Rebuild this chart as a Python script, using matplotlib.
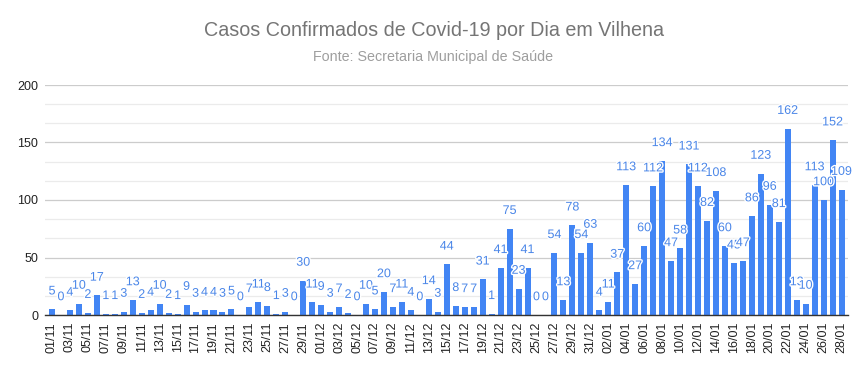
import datetime as dt

import matplotlib
matplotlib.use("Agg")
import matplotlib.pyplot as plt
import matplotlib.patheffects as pe
from matplotlib.ticker import MultipleLocator

# daily confirmed cases, 01/11 .. 28/01
NOV = [5, 0, 4, 10, 2, 17, 1, 1, 3, 13, 2, 4, 10, 2, 1, 9, 3, 4, 4, 3,
       5, 0, 7, 11, 8, 1, 3, 0, 30, 11]
DEC = [9, 3, 7, 2, 0, 10, 5, 20, 7, 11, 4, 0, 14, 3, 44, 8, 7, 7, 31, 1,
       41, 75, 23, 41, 0, 0, 54, 13, 78, 54, 63]
JAN = [4, 11, 37, 113, 27, 60, 112, 134, 47, 58, 131, 112, 82, 108, 60, 45,
       47, 86, 123, 96, 81, 162, 13, 10, 113, 100, 152, 109]

START = dt.date(2020, 11, 1)

TITLE = "Casos Confirmados de Covid-19 por Dia em Vilhena"
SUBTITLE = "Fonte: Secretaria Municipal de Saúde"

BAR_COLOR = "#4285f4"
LABEL_COLOR = "#4a86e8"

plt.rcParams["font.family"] = ["Liberation Sans", "DejaVu Sans"]

values = NOV + DEC + JAN
dates = [(START + dt.timedelta(days=i)).strftime("%d/%m") for i in range(len(values))]
x = list(range(len(values)))

fig = plt.figure(figsize=(8.67, 3.71), dpi=100)
ax = fig.add_axes([45 / 867, 1 - 315 / 371, (848 - 45) / 867, (315 - 85) / 371])

ax.bar(x, values, width=0.67, color=BAR_COLOR, zorder=3)

# value labels with white halo, like the original chart
for xi, v in zip(x, values):
    ax.annotate(str(v), (xi, v), xytext=(0, 8.5), textcoords="offset points",
                ha="center", va="bottom", fontsize=9, color=LABEL_COLOR,
                zorder=5,
                path_effects=[pe.withStroke(linewidth=2, foreground="white")])

ax.set_xlim(-0.78, len(values) - 1 + 0.72)
ax.set_ylim(0, 200)

ax.yaxis.set_major_locator(MultipleLocator(50))
ax.yaxis.set_minor_locator(MultipleLocator(50 / 3))
ax.grid(axis="y", which="major", color="#cccccc", linewidth=0.9, zorder=0)
ax.grid(axis="y", which="minor", color="#ebebeb", linewidth=0.9, zorder=0)

ax.set_xticks(x[::2])
ax.set_xticklabels(dates[::2], rotation=90, fontsize=9, color="#222222")
ax.tick_params(axis="x", length=0, pad=5)
ax.tick_params(axis="y", which="both", length=0, pad=5, labelsize=9,
               labelcolor="#222222")

for side in ["left", "right", "top"]:
    ax.spines[side].set_visible(False)
ax.spines["bottom"].set_color("#333333")
ax.spines["bottom"].set_linewidth(1)
ax.spines["bottom"].set_zorder(4)

fig.text(0.5, 1 - 31 / 371, TITLE, ha="center", va="center",
         fontsize=14.2, color="#757575")
fig.text(0.5, 1 - 57 / 371, SUBTITLE, ha="center", va="center",
         fontsize=10.3, color="#9e9e9e")

fig.savefig("out.png", dpi=100)
